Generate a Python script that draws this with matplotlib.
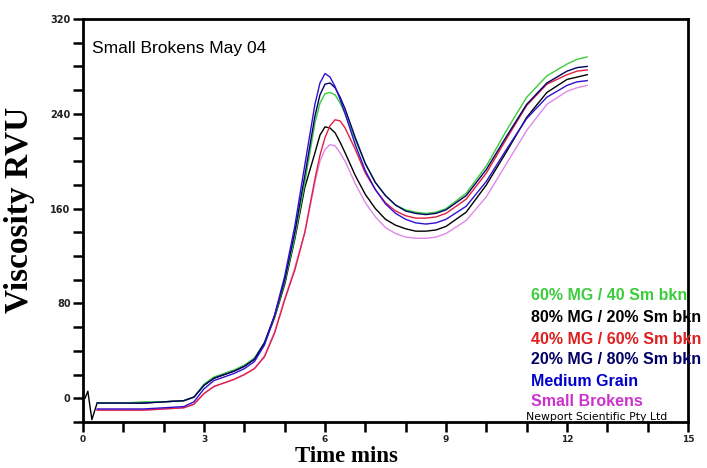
import matplotlib
matplotlib.use("Agg")
import matplotlib.pyplot as plt
from matplotlib.ticker import MultipleLocator

# ---------------- data ----------------
time = [0.35, 0.5, 1.0, 1.5, 2.0, 2.5, 2.75, 3.0, 3.25, 3.5, 3.75, 4.0, 4.25, 4.5, 4.75,
        5.0, 5.25, 5.5, 5.75, 5.875, 6.0, 6.125, 6.25, 6.375, 6.5, 6.75, 7.0, 7.25, 7.5, 7.75,
        8.0, 8.25, 8.5, 8.75, 9.0, 9.5, 10.0, 10.5, 11.0, 11.5, 12.0, 12.25, 12.5]

mg60_sm40 = [-4, -4, -4, -3, -3, -2, 1, 12, 18, 21, 24, 28, 34, 47, 69, 98, 136, 182, 232, 249,
             257, 258, 256, 249, 240, 218, 198, 182, 171, 163, 159, 157, 156, 157, 160, 173, 196,
             226, 254, 272, 282, 286, 288]
mg80_sm20_start_time = [0.05, 0.12, 0.22]
mg80_sm20_start = [0, 6, -18]
mg80_sm20 = [-4, -4, -4, -4, -3, -2, 1, 11, 17, 20, 23, 27, 33, 46, 68, 96, 134, 178, 207, 222,
             229, 228, 224, 216, 207, 188, 172, 160, 151, 146, 143, 141, 141, 142, 145, 157, 180,
             208, 237, 258, 269, 271, 273]
mg40_sm60 = [-10, -10, -10, -10, -9, -8, -5, 4, 10, 13, 16, 20, 25, 35, 55, 83, 108, 140, 185, 205,
             220, 230, 235, 234, 228, 210, 190, 176, 165, 158, 154, 152, 152, 153, 156, 168, 190,
             219, 247, 265, 273, 276, 277]
mg20_sm80 = [-4, -4, -4, -4, -3, -2, 1, 11, 17, 20, 23, 27, 33, 47, 70, 100, 140, 188, 238, 256,
             265, 266, 262, 254, 244, 220, 198, 182, 171, 163, 158, 156, 155, 156, 159, 171, 193,
             221, 248, 266, 276, 279, 280]
medium_grain = [-9, -9, -9, -9, -8, -7, -3, 8, 15, 18, 21, 25, 31, 45, 70, 103, 145, 197, 248, 266,
                274, 271, 263, 252, 240, 214, 192, 176, 164, 156, 151, 148, 147, 148, 151, 162, 183,
                210, 236, 254, 264, 267, 268]
small_brokens = [-10, -10, -10, -10, -9, -8, -5, 4, 10, 13, 16, 20, 25, 36, 56, 84, 110, 140, 182, 200,
                 210, 214, 213, 207, 200, 181, 165, 153, 144, 139, 136, 135, 135, 136, 139, 150, 170,
                 198, 226, 248, 259, 262, 264]

series_labels = ["60% MG / 40 Sm bkn", "80% MG / 20% Sm bkn", "40% MG / 60% Sm bkn",
                 "20% MG / 80% Sm bkn", "Medium Grain", "Small Brokens"]
series_colors = ["#3ccc3c", "#000000", "#dd2020", "#000066", "#0000cc", "#cc33cc"]
line_colors = ["#3ccc3c", "#000000", "#e02040", "#000066", "#3010d0", "#e088e8"]

x_ticks = [0, 3, 6, 9, 12, 15]
y_ticks = [0, 80, 160, 240, 320]

# ---------------- figure ----------------
W, H = 707, 468
fig = plt.figure(figsize=(W / 100, H / 100), dpi=100)
fig.patch.set_facecolor("white")
ax = fig.add_axes([83 / W, 1 - 422 / H, (688 - 83) / W, (422 - 19) / H])

series = [mg60_sm40, mg80_sm20, mg40_sm60, mg20_sm80, medium_grain, small_brokens]
order = [5, 1, 2, 0, 3, 4]
for i in order:
    t = time
    v = series[i]
    if i == 1:
        t = mg80_sm20_start_time + time
        v = mg80_sm20_start + mg80_sm20
    ax.plot(t, v, color=line_colors[i], lw=1.0, zorder=3)

ax.set_xlim(0, 15)
ax.set_ylim(-20, 320)
ax.set_xticks(x_ticks)
ax.set_yticks(y_ticks)
ax.xaxis.set_minor_locator(MultipleLocator(1))
ax.yaxis.set_minor_locator(MultipleLocator(20))
ax.tick_params(axis="both", which="both", direction="out", length=7, width=1.8, color="black")
ax.tick_params(axis="x", which="major", labelsize=6.5, pad=2.5)
ax.tick_params(axis="y", which="major", labelsize=7, pad=2)
for lab in ax.get_xticklabels() + ax.get_yticklabels():
    lab.set_fontfamily("DejaVu Sans")
    lab.set_fontweight("bold")
    lab.set_color("#222222")
for s in ax.spines.values():
    s.set_linewidth(2.0)

fig.text(92 / W, 1 - 48 / H, "Small Brokens May 04", fontsize=12.5, family="Liberation Sans",
         ha="left", va="center", color="black")

ly = [296, 318, 339, 360, 381, 402]
for lab, col, y in zip(series_labels, series_colors, ly):
    fig.text(531 / W, 1 - y / H, lab, fontsize=11.5, family="Liberation Sans", fontweight="bold",
             ha="left", va="center", color=col, zorder=1)

fig.text(526 / W, 1 - 417 / H, "Newport Scientific Pty Ltd", fontsize=7.8, family="DejaVu Sans",
         ha="left", va="center", color="black")

fig.text(20 / W, 1 - 210 / H, "Viscosity RVU", fontsize=24, family="Liberation Serif",
         fontweight="bold", rotation=90, ha="center", va="center")
fig.text(346 / W, 1 - 467 / H, "Time mins", fontsize=16.5, family="Liberation Serif",
         fontweight="bold", ha="center", va="bottom")

fig.savefig("out.png", dpi=100)
